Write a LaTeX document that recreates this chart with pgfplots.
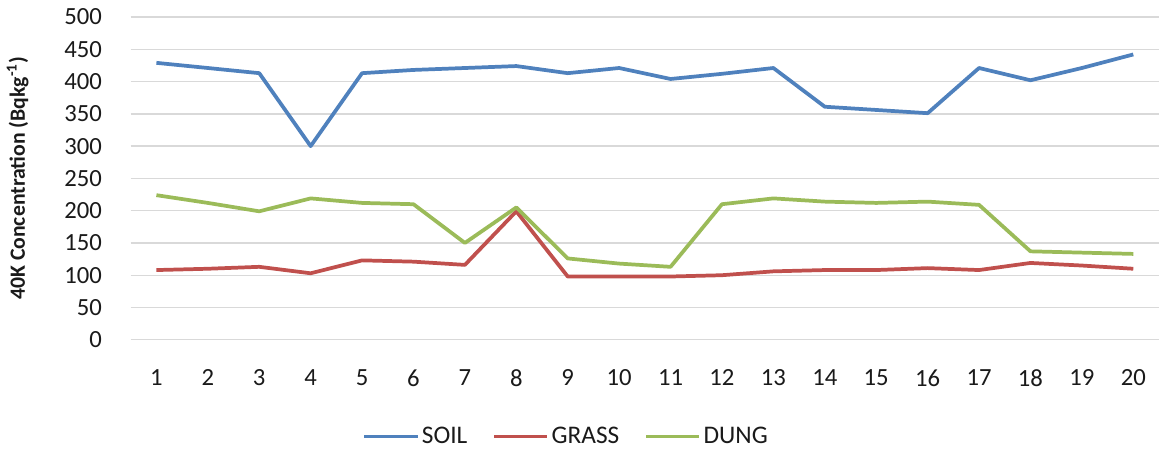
\documentclass[border=0pt]{standalone}
\usepackage{pgfplots}
\pgfplotsset{compat=1.18}
\usepackage{fontspec}
\setmainfont{Carlito}
\usetikzlibrary{calc}
\definecolor{soil}{HTML}{4F81BD}
\definecolor{grass}{HTML}{C0504D}
\definecolor{dung}{HTML}{9BBB59}
\definecolor{gridc}{HTML}{D9D9D9}
\definecolor{txt}{HTML}{1A1A1A}
\pgfplotstableread{
x soil grass dung
1 429 108 224
2 421 110 212
3 413 113 199
4 300 103 219
5 413 123 212
6 418 121 210
7 421 116 150
8 424 199 205
9 413 98 126
10 421 98 118
11 404 98 113
12 412 100 210
13 421 106 219
14 361 108 214
15 356 108 212
16 351 111 214
17 421 108 209
18 402 119 137
19 421 115 135
20 442 110 133
}\datatable
\begin{document}
\begin{tikzpicture}
\begin{axis}[
  name=ax,
  scale only axis,
  width=771pt, height=242pt,
  xmin=0.5, xmax=20.5,
  ymin=0, ymax=500,
  xtick={1,...,20},
  ytick={0,50,...,500},
  axis line style={draw=none},
  major tick length=0pt,
  ymajorgrids,
  grid style={gridc, line width=1pt},
  tick label style={font=\fontsize{18.5}{20}\selectfont, text=txt},
  /pgf/number format/assume math mode=true,
  xticklabel style={yshift=-19pt},
  yticklabel style={xshift=-18pt},
  ylabel={\textbf{40K Concentration (Bqkg\textsuperscript{-1})}},
  ylabel style={at={(axis description cs:-0.11,0.5)}, anchor=center, font=\fontsize{16.3}{18}\selectfont, text=txt},
  legend style={draw=none, fill=none, at={(0.424,-0.30)}, anchor=center,
    font=\fontsize{19}{20}\selectfont, text=txt,
    /tikz/every even column/.append style={column sep=17pt}},
  legend columns=-1,
  legend image code/.code={\draw[#1, line width=2.2pt] (0pt,0pt) -- (40pt,0pt);},
  clip=false,
]
\addplot[soil, line width=2.8pt, line join=round] table[x=x, y=soil] {\datatable};
\addlegendentry{SOIL}
\addplot[grass, line width=2.8pt, line join=round] table[x=x, y=grass] {\datatable};
\addlegendentry{GRASS}
\addplot[dung, line width=2.8pt, line join=round] table[x=x, y=dung] {\datatable};
\addlegendentry{DUNG}
\end{axis}
\pgfresetboundingbox
\path[use as bounding box] ($(ax.south west)+(-98pt,-85.5pt)$) rectangle ($(ax.north east)+(1.5pt,12.75pt)$);
\end{tikzpicture}
\end{document}
